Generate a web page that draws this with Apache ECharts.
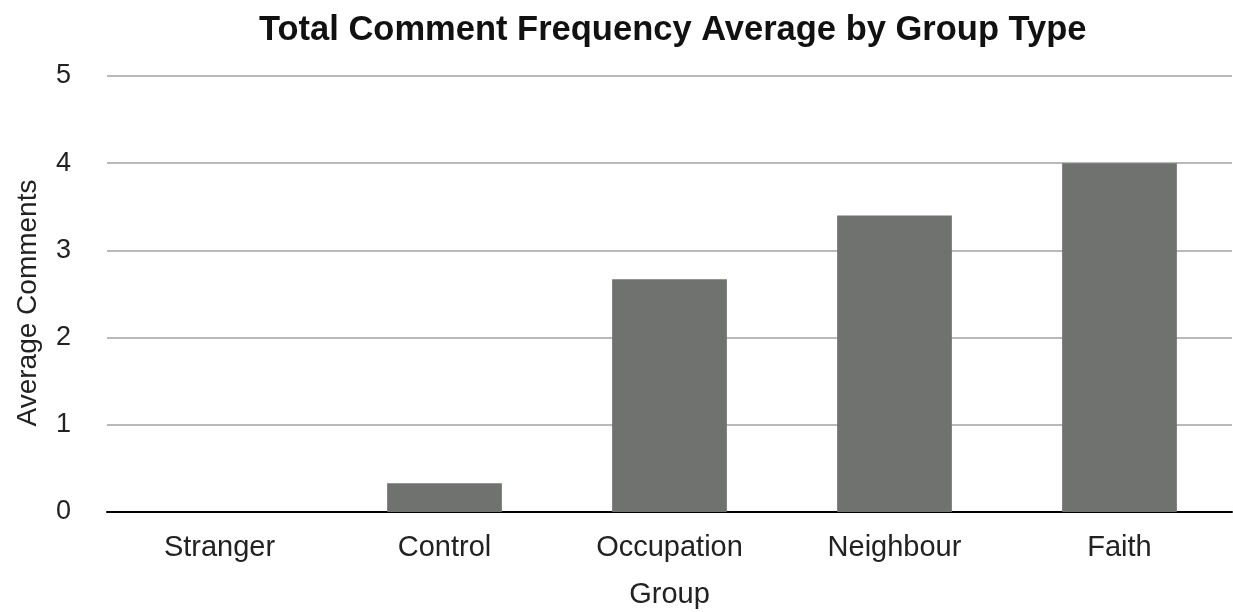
<!DOCTYPE html>
<html>
<head>
<meta charset="utf-8">
<script src="https://cdn.jsdelivr.net/npm/echarts@6/dist/echarts.min.js"></script>
<style>
  html, body { margin: 0; padding: 0; background: #fff; }
  #main { width: 1233px; height: 612px; }
</style>
</head>
<body>
<div id="main"></div>
<script>
// data
var groups = ['Stranger', 'Control', 'Occupation', 'Neighbour', 'Faith'];
var avgComments = [0, 0.33, 2.67, 3.4, 4.0];
var yTicks = { min: 0, max: 5, interval: 1 };

var myChart = echarts.init(document.getElementById('main'));
var font = '"Liberation Sans", Arial, Helvetica, sans-serif';

var option = {
    backgroundColor: '#fff',
    animation: false,
    title: {
        text: 'Total Comment Frequency Average by Group Type',
        left: 254,
        top: 8,
        textStyle: {
            color: '#111',
            fontFamily: font,
            fontWeight: 'bold',
            fontSize: 34.5
        }
    },
    grid: {
        left: 107,
        right: 1,
        top: 76,
        bottom: 100,
        outerBoundsMode: 'none'
    },
    xAxis: {
        type: 'category',
        data: groups,
        name: 'Group',
        nameLocation: 'middle',
        nameGap: 68,
        nameTextStyle: { color: '#222', fontFamily: font, fontSize: 29 },
        axisLine: { lineStyle: { color: '#000', width: 2 } },
        axisTick: { show: false },
        axisLabel: { color: '#222', fontFamily: font, fontSize: 29, margin: 21 }
    },
    yAxis: {
        type: 'value',
        min: yTicks.min,
        max: yTicks.max,
        interval: yTicks.interval,
        name: 'Average Comments',
        nameLocation: 'middle',
        nameGap: 65,
        nameTextStyle: { color: '#222', fontFamily: font, fontSize: 28, padding: [0, 18, 0, 0] },
        axisLine: { show: false },
        axisTick: { show: false },
        axisLabel: { color: '#222', fontFamily: font, fontSize: 27, margin: 36 },
        splitLine: { lineStyle: { color: '#b9b9b9', width: 2 } }
    },
    series: [
        {
            name: 'Average Comments',
            type: 'bar',
            data: avgComments,
            barWidth: '51%',
            itemStyle: { color: '#707270' }
        }
    ]
};
myChart.setOption(option);
</script>
</body>
</html>
